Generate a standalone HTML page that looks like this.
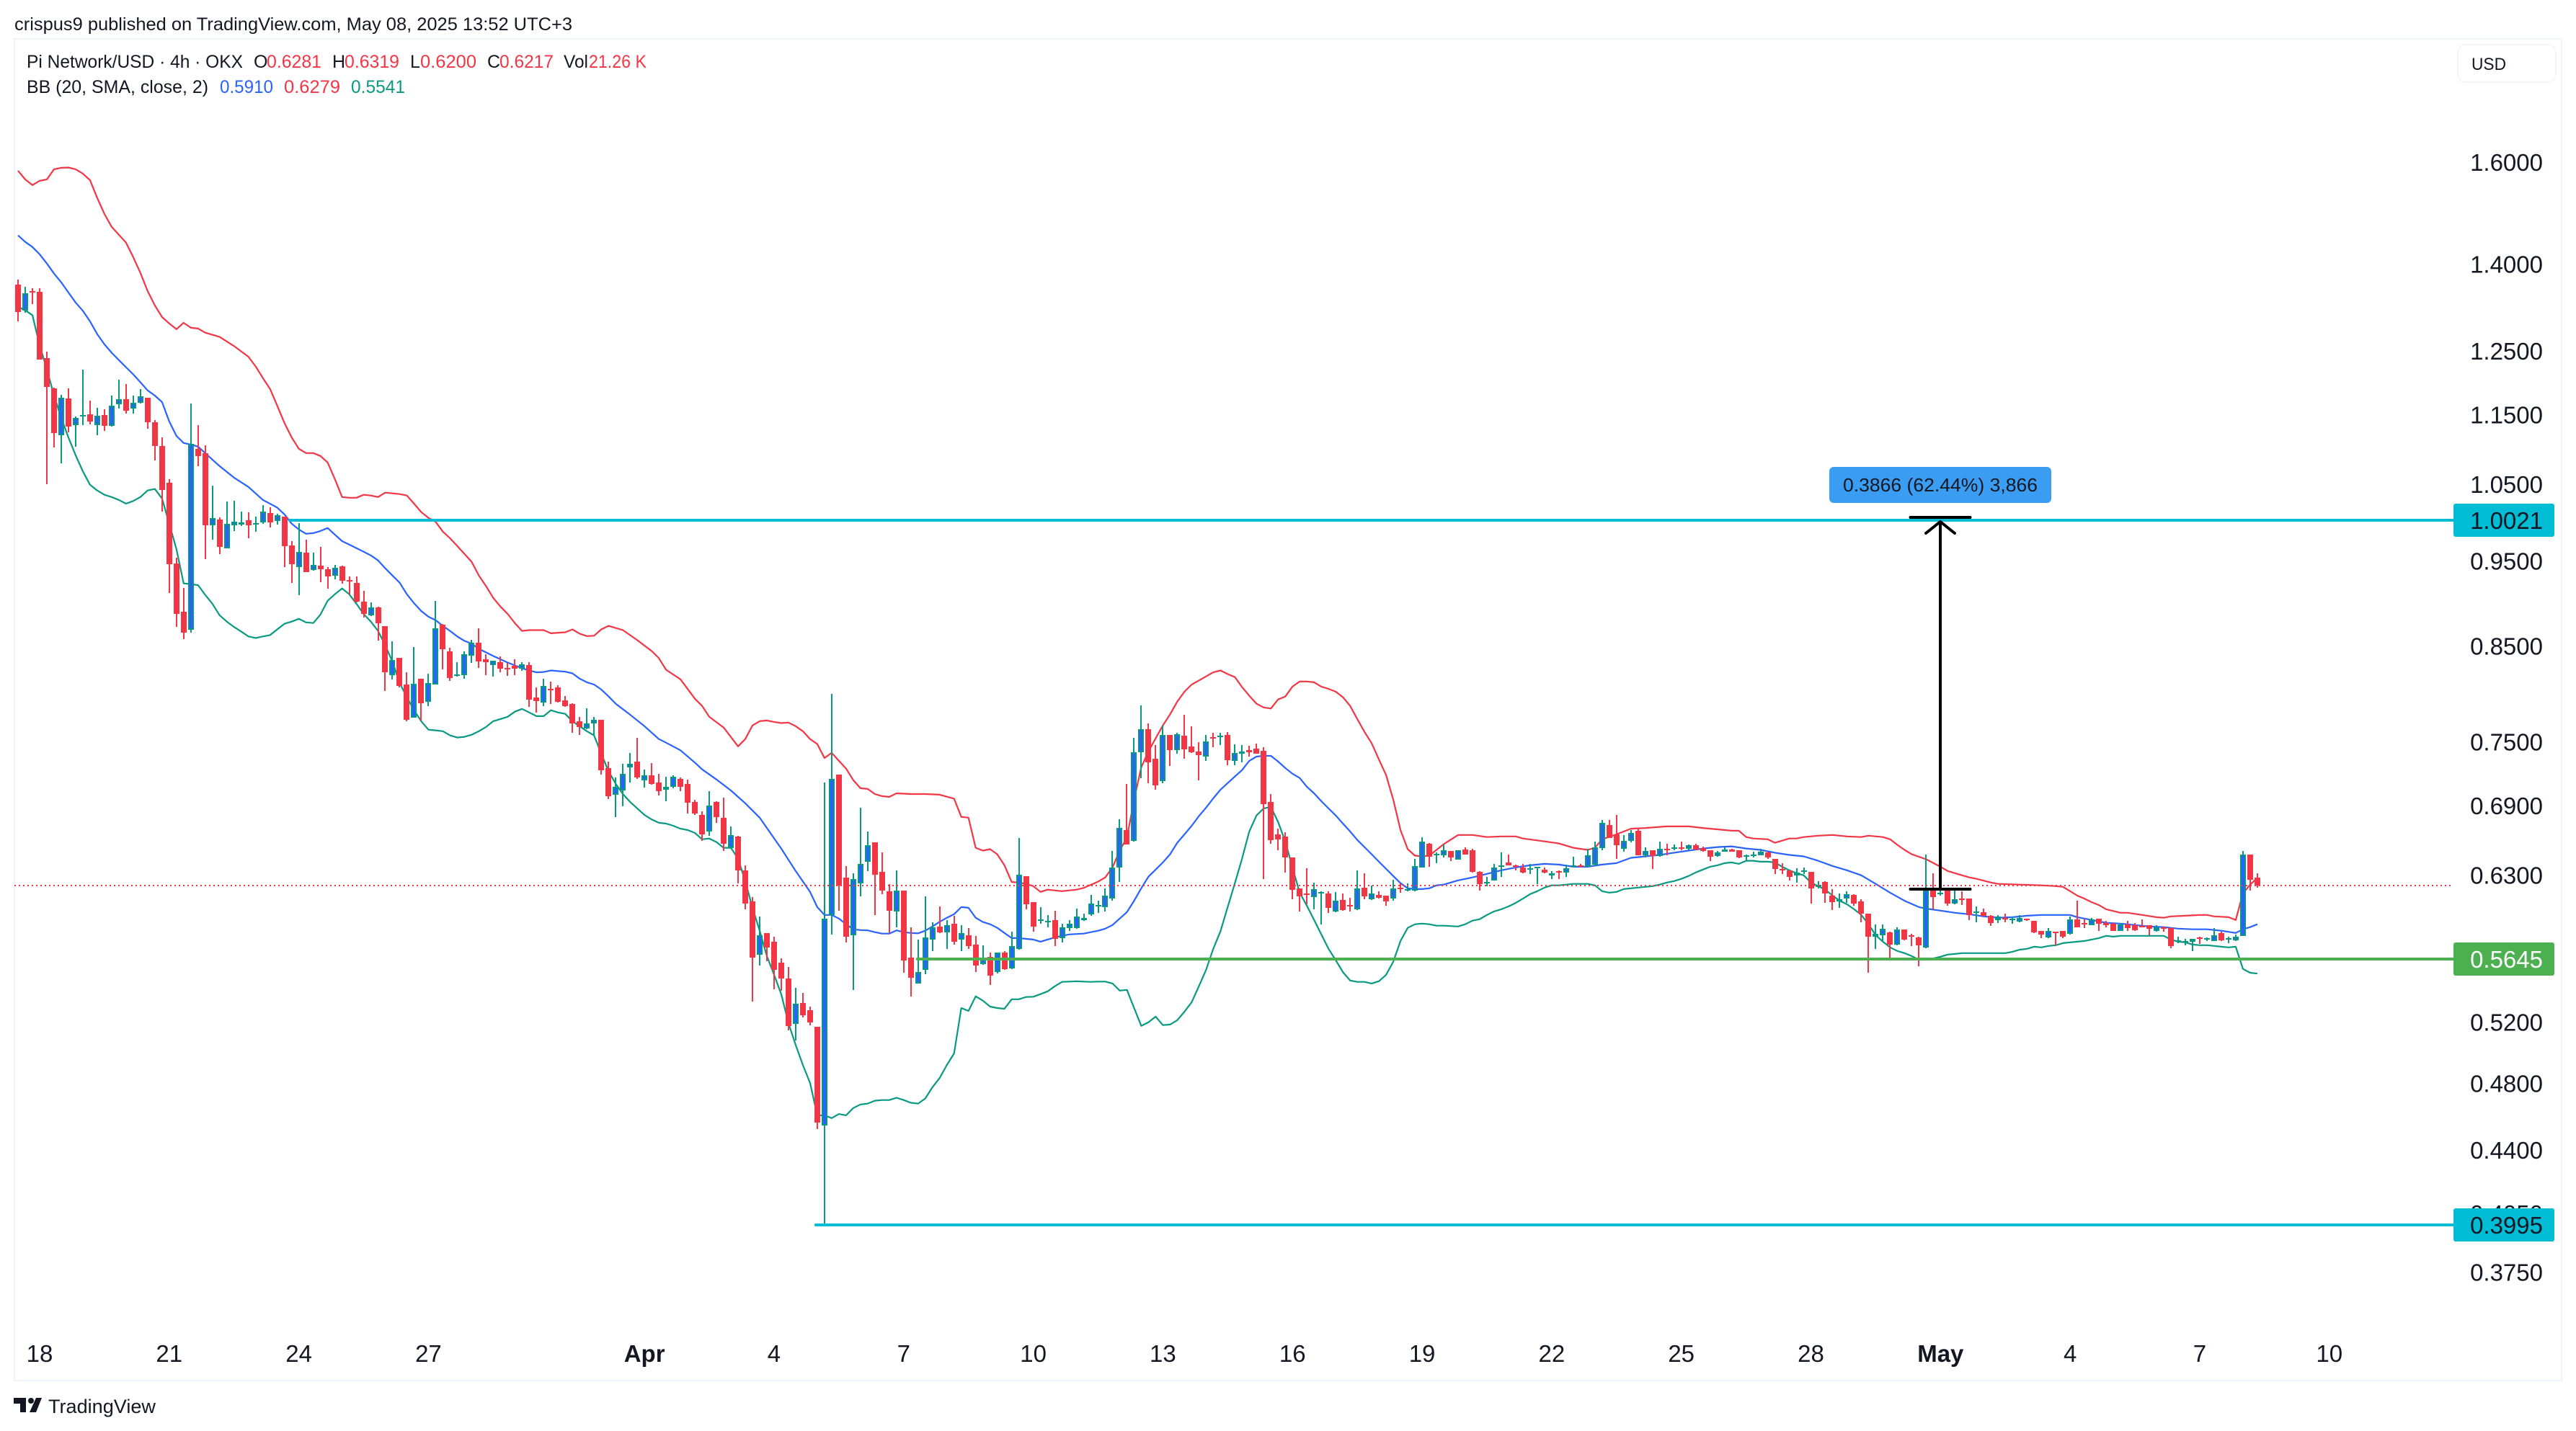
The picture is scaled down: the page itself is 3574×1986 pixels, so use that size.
<!DOCTYPE html>
<html lang="en">
<head>
<meta charset="utf-8">
<title>Pi Network/USD chart</title>
<style>
html,body{margin:0;padding:0;background:#fff;}
svg{display:block;font-family:"Liberation Sans",sans-serif;}
</style>
</head>
<body>
<svg id="chart" xmlns="http://www.w3.org/2000/svg" width="3574" height="1986" viewBox="0 0 3574 1986">
  <rect x="0" y="0" width="3574" height="1986" fill="#ffffff"/>
  <text x="20" y="42" font-size="25" fill="#131722" textLength="774" lengthAdjust="spacingAndGlyphs">crispus9 published on TradingView.com, May 08, 2025 13:52 UTC+3</text>
  <rect x="20" y="54" width="3534" height="1862" fill="none" stroke="#f0f3fa" stroke-width="2"/>
  <g id="bb-layer"></g>
  <g id="candle-layer"></g>
  <g id="drawing-layer"></g>
  <g id="y-axis"></g>
  <g id="x-axis"></g>
  <g id="level-label-layer"></g>

  <g font-size="25" fill="#131722">
    <text x="37" y="94" textLength="300" lengthAdjust="spacingAndGlyphs">Pi Network/USD · 4h · OKX</text>
    <text x="352" y="94">O</text>
    <text x="370" y="94" fill="#f23645" textLength="76" lengthAdjust="spacingAndGlyphs">0.6281</text>
    <text x="461" y="94">H</text>
    <text x="478" y="94" fill="#f23645" textLength="76" lengthAdjust="spacingAndGlyphs">0.6319</text>
    <text x="569" y="94">L</text>
    <text x="583" y="94" fill="#f23645" textLength="78" lengthAdjust="spacingAndGlyphs">0.6200</text>
    <text x="676" y="94">C</text>
    <text x="693" y="94" fill="#f23645" textLength="75" lengthAdjust="spacingAndGlyphs">0.6217</text>
    <text x="782" y="94" textLength="34" lengthAdjust="spacingAndGlyphs">Vol</text>
    <text x="817" y="94" fill="#f23645" textLength="80" lengthAdjust="spacingAndGlyphs">21.26 K</text>
  </g>
  <g font-size="25" fill="#131722">
    <text x="37" y="129" textLength="252" lengthAdjust="spacingAndGlyphs">BB (20, SMA, close, 2)</text>
    <text x="305" y="129" fill="#2962ff" textLength="74" lengthAdjust="spacingAndGlyphs">0.5910</text>
    <text x="394" y="129" fill="#f23645" textLength="78" lengthAdjust="spacingAndGlyphs">0.6279</text>
    <text x="487" y="129" fill="#089981" textLength="75" lengthAdjust="spacingAndGlyphs">0.5541</text>
  </g>

  <g>
    <rect x="3410" y="62" width="136" height="52" rx="11" fill="#ffffff" stroke="#f0f3fa" stroke-width="1.5"/>
    <text x="3429" y="97" font-size="24" fill="#131722" textLength="48" lengthAdjust="spacingAndGlyphs">USD</text>
  </g>

  <g>
    <path d="M19 1940h17v20h-8v-12h-9z" fill="#131722"/>
    <circle cx="43" cy="1944" r="4" fill="#131722"/>
    <path d="M50 1940h8l-8 20h-9z" fill="#131722"/>
    <text x="67" y="1961" font-size="27" fill="#131722" textLength="149" lengthAdjust="spacingAndGlyphs">TradingView</text>
  </g>
</svg>

<script>
// ---- Candle data (4h bars, USD) ----
const opens = [
1.3634,1.3175,1.3520,1.3507,1.2389,1.1907,1.1197,1.1749,1.1347,1.1477,
1.1510,1.1347,1.1499,1.1336,1.1662,1.1738,1.1597,1.1684,1.1760,1.1391,
1.1042,1.0525,.9474,.8891,.8680,1.1001,1.0939,.9957,1.0033,.9661,
.9957,.9967,1.0023,.9967,.9995,1.0117,1.0014,1.0070,.9697,.9428,
.9607,.9392,.9445,.9401,.9321,.9437,.9269,.9235,.9011,.8850,
.8942,.8728,.8187,.8368,.8084,.7743,.8147,.7906,.8084,.8744,
.8439,.8179,.8187,.8391,.8535,.8352,.8296,.8320,.8265,.8281,
.8250,.8296,.7951,.7898,.8039,.8054,.7921,.7884,.7706,.7635,
.7685,.7720,.7249,.6999,.7039,.7256,.7310,.7135,.7182,.7114,
.7046,.7073,.7148,.7101,.6935,.6818,.6672,.6935,.6793,.6531,
.6629,.6342,.6088,.5680,.5843,.5777,.5623,.5506,.5189,.5333,
.5282,.5170,.4545,.5982,.7188,.6283,.5826,.6236,.6413,.6580,
.6330,.6171,.6010,.6177,.5658,.5470,.5569,.5793,.5893,.5849,
.5915,.5793,.5826,.5755,.5612,.5664,.5552,.5696,.5580,.5723,
.6294,.6083,.5938,.5927,.5943,.5804,.5882,.5882,.5943,.5988,
.6049,.6044,.6111,.6365,.6684,.6592,.7401,.7628,.7338,.7128,
.7571,.7422,.7564,.7457,.7408,.7358,.7550,.7550,.7571,.7317,
.7387,.7422,.7436,.7415,.6935,.6647,.6629,.6450,.6194,.6153,
.6123,.6153,.6153,.6010,.6100,.6060,.6027,.6200,.6106,.6141,
.6135,.6111,.6200,.6183,.6177,.6365,.6568,.6476,.6470,.6501,
.6433,.6519,.6513,.6330,.6236,.6259,.6371,.6407,.6383,.6365,
.6348,.6365,.6348,.6300,.6336,.6324,.6371,.6383,.6371,.6389,
.6531,.6729,.6647,.6525,.6592,.6678,.6470,.6507,.6464,.6525,
.6525,.6537,.6525,.6556,.6531,.6507,.6464,.6495,.6519,.6507,
.6464,.6470,.6470,.6489,.6434,.6353,.6342,.6300,.6330,.6330,
.6206,.6248,.6135,.6088,.6111,.6141,.6088,.5994,.5815,.5826,
.5849,.5755,.5871,.5826,.5809,.5734,.6194,.6147,.6194,.6072,
.6111,.6111,.5999,.6004,.5976,.5943,.5960,.5943,.5932,.5954,
.5938,.5860,.5809,.5855,.5860,.5838,.5949,.5921,.5904,.5954,
.5921,.5915,.5860,.5910,.5904,.5899,.5904,.5860,.5888,.5882,
.5777,.5777,.5777,.5809,.5793,.5782,.5843,.5798,.5788,.5821,
.6476,.6281];
const highs = [
1.3726,1.3595,1.3569,1.3569,1.2485,1.1919,1.1805,1.1907,1.1477,1.2205,
1.1716,1.1608,1.1586,1.1793,1.2045,1.1975,1.1793,1.1896,1.1760,1.1423,
1.1166,1.0574,.9545,.9174,1.1673,1.1347,1.1052,1.0487,1.0061,1.0270,
1.0280,1.0136,1.0127,1.0070,1.0221,1.0192,1.0108,1.0070,.9750,.9986,
.9768,.9607,.9679,.9428,.9454,.9445,.9312,.9312,.9140,.9002,
.8950,.8728,.8551,.8368,.8218,.8486,.8147,.8203,.9020,.8752,
.8478,.8320,.8446,.8567,.8704,.8407,.8336,.8383,.8312,.8352,
.8320,.8320,.8054,.8147,.8116,.8076,.7966,.7891,.7750,.7839,
.7750,.7720,.7310,.7162,.7290,.7394,.7543,.7236,.7297,.7195,
.7168,.7182,.7162,.7141,.6954,.6850,.7033,.6941,.6974,.6716,
.6635,.6383,.6124,.5972,.5843,.5815,.5650,.5591,.5439,.5404,
.5307,.5170,.7114,.7988,.7188,.6377,.6318,.6883,.6672,.6580,
.6489,.6230,.6342,.6177,.5888,.5793,.6129,.5927,.6049,.5943,
.5976,.5904,.5882,.5821,.5750,.5696,.5696,.5707,.5855,.6617,
.6294,.6083,.6044,.5982,.6016,.5915,.5943,.6032,.5994,.6141,
.6094,.6194,.6501,.6781,.7101,.7543,.7868,.7685,.7472,.7663,
.7571,.7592,.7772,.7656,.7500,.7571,.7592,.7592,.7600,.7479,
.7472,.7465,.7486,.7450,.7006,.6696,.6665,.6450,.6194,.6359,
.6241,.6171,.6171,.6165,.6153,.6118,.6342,.6318,.6218,.6171,
.6135,.6265,.6236,.6236,.6438,.6623,.6574,.6489,.6562,.6501,
.6513,.6537,.6525,.6336,.6289,.6395,.6489,.6476,.6389,.6395,
.6395,.6371,.6365,.6336,.6342,.6389,.6458,.6395,.6525,.6586,
.6770,.6770,.6818,.6641,.6684,.6696,.6537,.6507,.6586,.6568,
.6562,.6586,.6562,.6568,.6543,.6507,.6501,.6537,.6525,.6507,
.6476,.6495,.6525,.6495,.6434,.6401,.6342,.6359,.6365,.6330,
.6253,.6253,.6188,.6153,.6171,.6147,.6106,.5994,.5910,.5910,
.5855,.5888,.5871,.5838,.5815,.6476,.6318,.6371,.6194,.6194,
.6171,.6111,.6049,.6032,.5982,.5982,.5994,.5971,.5982,.5954,
.5938,.5860,.5882,.5855,.5860,.5971,.6094,.5954,.5960,.5954,
.5938,.5927,.5921,.5938,.5921,.5949,.5904,.5904,.5893,.5888,
.5815,.5798,.5798,.5815,.5809,.5882,.5855,.5815,.5832,.6501,
.6476,.6319];
const lows = [
1.2995,1.3139,1.3285,1.2365,1.0505,1.1022,1.0795,1.1238,1.1032,1.1347,
1.1358,1.1197,1.1260,1.1325,1.1597,1.1521,1.1521,1.1673,1.1293,1.0836,
1.0136,.9114,.8720,.8575,.8648,1.0754,.9525,.9768,.9590,.9661,
.9881,.9948,.9787,.9872,.9976,.9929,.9967,.9428,.9235,.9089,
.9365,.9383,.9243,.9166,.9278,.9226,.9097,.9002,.8825,.8841,
.8559,.8017,.8139,.8054,.7706,.7743,.7713,.7861,.8084,.8242,
.8124,.8171,.8147,.8312,.8265,.8187,.8171,.8218,.8179,.8187,
.8234,.7854,.7794,.7861,.7884,.7898,.7854,.7592,.7571,.7628,
.7564,.7188,.6961,.6800,.6895,.7114,.7148,.7066,.7094,.6993,
.6941,.7060,.7033,.6831,.6818,.6592,.6635,.6748,.6501,.6525,
.6236,.6027,.5343,.5601,.5631,.5429,.5419,.5146,.5077,.5233,
.5180,.4523,.3995,.5832,.6016,.5772,.5422,.6129,.6336,.5982,
.6147,.5843,.5888,.5547,.5375,.5470,.5537,.5707,.5843,.5723,
.5755,.5707,.5723,.5552,.5607,.5460,.5542,.5569,.5574,.5717,
.6027,.5854,.5915,.5888,.5745,.5772,.5860,.5876,.5938,.5976,
.5999,.6010,.6094,.6248,.6562,.6586,.7155,.7107,.7046,.7107,
.7270,.7387,.7338,.7394,.7135,.7317,.7450,.7472,.7276,.7276,
.7304,.7358,.7387,.6271,.6568,.6513,.6324,.6106,.6010,.6066,
.6027,.5910,.5999,.6004,.6016,.6010,.6021,.6106,.6100,.6111,
.6055,.6094,.6159,.6171,.6171,.6365,.6371,.6401,.6452,.6421,
.6433,.6476,.6324,.6177,.6212,.6259,.6289,.6383,.6342,.6318,
.6312,.6230,.6318,.6271,.6271,.6289,.6365,.6365,.6371,.6377,
.6513,.6617,.6434,.6495,.6580,.6470,.6452,.6353,.6458,.6470,
.6513,.6507,.6507,.6513,.6495,.6421,.6458,.6495,.6495,.6440,
.6421,.6452,.6470,.6434,.6312,.6312,.6259,.6241,.6312,.6072,
.6194,.6077,.6021,.6038,.6077,.6055,.5927,.5547,.5723,.5777,
.5652,.5750,.5788,.5745,.5596,.5728,.6027,.6135,.6055,.6066,
.6060,.5943,.5927,.5971,.5899,.5921,.5927,.5915,.5927,.5938,
.5843,.5804,.5804,.5750,.5804,.5832,.5888,.5882,.5904,.5860,
.5888,.5860,.5860,.5860,.5860,.5888,.5826,.5855,.5855,.5728,
.5766,.5750,.5707,.5761,.5782,.5782,.5782,.5766,.5782,.5821,
.6177,.6200];
const closes = [
1.3151,1.3482,1.3507,1.2365,1.1931,1.1228,1.1760,1.1325,1.1456,1.1499,
1.1401,1.1488,1.1336,1.1640,1.1738,1.1564,1.1684,1.1782,1.1391,1.1042,
1.0426,.9465,.8866,.8648,1.1073,1.0898,.9957,1.0051,.9679,.9976,
1.0004,.9995,.9957,.9986,1.0136,.9995,1.0089,.9688,.9465,.9616,
.9365,.9454,.9401,.9312,.9419,.9260,.9252,.9011,.8866,.8942,
.8760,.8218,.8344,.8069,.7720,.8092,.7891,.8100,.8704,.8462,
.8155,.8195,.8407,.8535,.8328,.8320,.8336,.8250,.8250,.8250,
.8304,.7928,.7913,.8069,.8024,.7906,.7861,.7685,.7649,.7685,
.7720,.7229,.6987,.7073,.7195,.7290,.7162,.7182,.7101,.7033,
.7073,.7168,.7073,.6928,.6831,.6647,.6902,.6800,.6568,.6641,
.6342,.6072,.5658,.5826,.5734,.5569,.5506,.5175,.5328,.5248,
.5199,.4561,.5954,.7148,.6218,.5815,.6271,.6395,.6556,.6306,
.6177,.6016,.6177,.5636,.5511,.5552,.5809,.5888,.5849,.5904,
.5777,.5843,.5745,.5601,.5650,.5527,.5696,.5574,.5745,.6306,
.6066,.5893,.5949,.5938,.5798,.5888,.5915,.5972,.5960,.6072,
.6060,.6135,.6365,.6702,.6562,.7401,.7628,.7304,.7087,.7571,
.7422,.7578,.7429,.7401,.7372,.7507,.7536,.7564,.7324,.7394,
.7408,.7401,.7387,.6915,.6598,.6604,.6450,.6183,.6129,.6141,
.6188,.6165,.6038,.6094,.6021,.6049,.6194,.6129,.6153,.6118,
.6088,.6194,.6194,.6188,.6377,.6586,.6458,.6482,.6507,.6452,
.6513,.6476,.6330,.6230,.6248,.6365,.6383,.6383,.6371,.6324,
.6359,.6371,.6324,.6318,.6330,.6359,.6383,.6371,.6470,.6537,
.6748,.6617,.6550,.6592,.6659,.6470,.6501,.6464,.6525,.6513,
.6537,.6525,.6556,.6519,.6501,.6458,.6489,.6519,.6495,.6452,
.6470,.6476,.6495,.6446,.6353,.6348,.6289,.6324,.6342,.6194,
.6224,.6153,.6083,.6106,.6147,.6072,.5994,.5815,.5838,.5876,
.5755,.5871,.5793,.5815,.5750,.6183,.6123,.6159,.6072,.6106,
.6100,.5982,.6010,.5976,.5921,.5971,.5949,.5954,.5960,.5949,
.5849,.5832,.5860,.5843,.5815,.5949,.5888,.5910,.5949,.5915,
.5904,.5860,.5910,.5882,.5865,.5893,.5876,.5888,.5882,.5745,
.5788,.5782,.5798,.5804,.5804,.5826,.5788,.5804,.5815,.6476,
.6265,.6217];

// ---- Bollinger Bands: bar numbers read and the value at each ----
const bbUpperBars = [0,1,2,3,4,5,6,7,8,9,10,11,12,13,14,15,16,17,18,19,20,21,22,23,24,25,26,28,30,32,33,34,35,36,37,38,39,40,41,42,43,44,45,46,47,48,49,50,51,53,54,55,56,57,58,59,60,61,63,64,65,66,67,68,69,70,71,73,74,76,77,78,79,80,81,82,84,86,88,89,90,92,94,95,96,98,100,101,102,103,104,105,106,107,108,109,110,111,112,113,114,115,116,117,118,119,120,121,122,124,126,128,130,131,132,133,134,135,136,137,138,139,140,141,142,143,145,147,148,150,151,152,153,154,155,156,157,158,159,160,161,162,163,164,165,166,167,168,169,170,171,172,173,174,175,176,177,178,179,180,181,182,183,184,185,186,187,188,189,190,191,192,193,194,195,196,197,198,200,202,204,206,208,209,212,214,216,218,219,220,222,224,226,229,232,234,236,238,239,240,241,243,244,245,246,247,248,250,252,254,256,257,259,260,261,262,263,265,267,268,270,271,272,274,275,278,281,283,284,285,286,287,288,289,290,292,293,295,297,298,299,301,303,304,305,307,308,309,310,311];
const bbUpper = [1.5821,1.5642,1.5527,1.5614,1.5642,1.5851,1.5881,1.5887,1.5851,1.5762,1.5628,1.5268,1.4952,1.4703,1.4552,1.4402,1.4132,1.3844,1.3519,1.3268,1.3068,1.2958,1.2861,1.2970,1.2885,1.2873,1.2803,1.2732,1.2581,1.2407,1.2250,1.2067,1.1896,1.1640,1.1380,1.1166,1.1001,1.0939,1.0939,1.0898,1.0805,1.0574,1.0329,1.0319,1.0319,1.0359,1.0349,1.0329,1.0388,1.0369,1.0349,1.0240,1.0127,1.0051,1.0000,.9872,.9787,.9688,.9490,.9321,.9192,.9054,.8951,.8866,.8760,.8671,.8680,.8680,.8644,.8655,.8688,.8640,.8612,.8616,.8688,.8728,.8680,.8567,.8446,.8368,.8242,.8139,.7936,.7861,.7750,.7642,.7457,.7528,.7663,.7706,.7713,.7699,.7687,.7692,.7656,.7606,.7528,.7479,.7344,.7394,.7317,.7243,.7135,.7060,.7053,.7006,.6987,.6980,.7013,.7006,.7006,.7000,.6964,.6800,.6793,.6531,.6507,.6519,.6476,.6383,.6245,.6241,.6230,.6212,.6165,.6183,.6171,.6183,.6197,.6248,.6283,.6365,.6507,.6617,.6954,.7256,.7408,.7536,.7663,.7776,.7906,.8009,.8084,.8127,.8171,.8214,.8234,.8195,.8163,.8057,.7966,.7884,.7846,.7835,.7928,.7958,.8062,.8116,.8116,.8108,.8062,.8039,.8009,.7951,.7861,.7728,.7599,.7486,.7331,.7182,.6954,.6684,.6519,.6464,.6458,.6464,.6513,.6562,.6641,.6641,.6623,.6629,.6629,.6611,.6586,.6568,.6531,.6513,.6531,.6604,.6647,.6696,.6702,.6716,.6716,.6702,.6690,.6678,.6678,.6623,.6611,.6604,.6574,.6592,.6611,.6611,.6623,.6635,.6641,.6629,.6623,.6635,.6623,.6604,.6556,.6513,.6476,.6434,.6371,.6336,.6300,.6283,.6271,.6241,.6230,.6224,.6218,.6212,.6206,.6171,.6135,.6111,.6083,.6060,.6027,.5999,.5999,.5982,.5965,.5960,.5971,.5976,.5982,.5982,.5971,.5965,.5943,.6153,.6224,.6279];

const bbBasisBars = [0,1,2,3,4,5,6,7,8,9,10,11,12,13,14,15,16,17,18,19,20,21,22,23,24,25,26,27,28,30,32,34,36,37,38,39,40,41,42,43,44,45,46,48,49,50,51,52,53,54,55,56,57,58,59,60,61,62,63,64,66,68,70,71,72,73,74,76,77,78,79,80,81,82,83,85,87,89,90,92,94,95,97,99,101,103,104,106,108,110,111,112,113,114,115,116,117,118,119,120,121,122,123,124,125,126,127,128,129,130,131,132,133,134,135,136,137,138,139,140,141,142,143,144,145,146,148,150,151,152,153,154,155,156,157,158,159,160,161,162,163,164,165,166,167,168,169,170,171,172,173,174,175,176,177,178,179,180,181,182,183,184,185,186,187,188,189,190,191,192,193,194,195,196,197,198,200,202,204,206,208,210,212,214,216,218,220,222,224,226,228,230,232,234,236,238,240,242,244,246,248,250,252,254,256,258,260,262,264,265,267,269,271,273,275,277,279,281,285,286,288,290,292,294,296,298,300,302,304,306,308,309,310,311];
const bbBasis = [1.4539,1.4416,1.4320,1.4185,1.4014,1.3831,1.3674,1.3494,1.3318,1.3175,1.2994,1.2779,1.2610,1.2473,1.2353,1.2239,1.2125,1.2000,1.1873,1.1793,1.1695,1.1401,1.1187,1.1084,1.1063,1.1032,1.0939,1.0846,1.0754,1.0594,1.0466,1.0290,1.0188,1.0098,.9976,.9900,.9844,.9853,.9881,.9919,.9834,.9750,.9706,.9616,.9570,.9508,.9410,.9321,.9235,.9097,.8990,.8899,.8833,.8793,.8728,.8671,.8608,.8559,.8527,.8470,.8391,.8320,.8258,.8234,.8214,.8218,.8234,.8221,.8203,.8147,.8108,.8084,.8032,.7961,.7884,.7772,.7656,.7528,.7493,.7418,.7300,.7236,.7141,.7039,.6922,.6793,.6702,.6525,.6336,.6165,.6044,.5982,.5982,.5954,.5910,.5871,.5865,.5863,.5849,.5838,.5838,.5863,.5849,.5843,.5840,.5860,.5893,.5929,.5960,.5988,.6044,.6038,.5960,.5927,.5910,.5882,.5843,.5804,.5804,.5798,.5793,.5777,.5793,.5809,.5821,.5832,.5838,.5860,.5876,.5904,.5954,.6004,.6094,.6194,.6289,.6348,.6407,.6476,.6574,.6647,.6722,.6807,.6883,.6967,.7046,.7107,.7168,.7229,.7317,.7358,.7365,.7365,.7310,.7249,.7195,.7155,.7073,.7013,.6941,.6876,.6813,.6741,.6672,.6598,.6537,.6476,.6413,.6353,.6294,.6236,.6194,.6188,.6188,.6194,.6218,.6224,.6259,.6283,.6312,.6342,.6365,.6383,.6395,.6389,.6371,.6371,.6389,.6401,.6446,.6458,.6470,.6489,.6507,.6525,.6537,.6543,.6525,.6513,.6489,.6470,.6458,.6421,.6377,.6342,.6300,.6230,.6159,.6094,.6044,.6032,.6016,.5999,.5988,.5971,.5960,.5965,.5976,.5982,.5982,.5965,.5943,.5921,.5915,.5904,.5893,.5888,.5876,.5871,.5871,.5860,.5843,.5871,.5888,.5910];

const bbLowerBars = [0,1,2,3,4,5,6,7,8,9,10,11,12,13,14,15,16,17,18,19,20,21,22,23,24,25,26,27,28,29,30,31,32,33,34,35,36,37,38,39,40,41,42,43,44,45,46,47,48,49,50,51,52,53,54,55,56,57,58,59,60,61,62,63,64,65,66,67,68,69,70,71,72,73,74,75,76,77,78,79,80,81,82,83,84,85,86,87,88,89,90,91,92,93,94,95,96,97,98,99,100,101,102,103,104,105,106,107,108,109,110,111,112,113,114,115,116,117,118,119,120,121,122,123,124,125,126,127,128,129,130,131,132,133,134,135,136,137,138,139,140,141,142,143,144,145,146,147,148,149,150,151,152,153,154,155,156,157,158,159,160,161,162,163,164,165,166,167,168,169,170,171,172,173,174,175,176,177,178,179,180,181,182,183,184,185,186,187,188,189,190,191,192,193,194,195,196,197,198,200,201,202,203,204,205,206,207,208,209,210,211,212,213,214,215,216,217,218,219,220,221,222,223,224,225,226,227,228,229,230,231,232,233,234,235,236,237,238,239,240,241,242,243,244,245,246,247,248,249,250,251,252,253,254,255,256,257,258,259,260,261,262,263,264,265,266,267,268,269,270,275,276,277,278,279,280,281,282,283,284,285,286,287,288,289,290,291,292,298,299,300,301,302,303,304,305,306,307,308,309,310,311];
const bbLower = [1.3244,1.3182,1.3100,1.2593,1.2205,1.1793,1.1456,1.1166,1.0908,1.0683,1.0495,1.0418,1.0359,1.0329,1.0290,1.0240,1.0275,1.0329,1.0418,1.0438,1.0309,.9976,.9648,.9226,.9218,.9205,.9089,.8984,.8850,.8777,.8716,.8663,.8608,.8591,.8608,.8624,.8688,.8752,.8777,.8809,.8769,.8760,.8858,.9020,.9097,.9166,.9097,.8984,.8866,.8777,.8671,.8510,.8328,.8100,.7951,.7817,.7706,.7621,.7614,.7606,.7564,.7543,.7550,.7571,.7606,.7649,.7706,.7728,.7750,.7802,.7831,.7794,.7757,.7757,.7817,.7794,.7780,.7706,.7656,.7606,.7564,.7387,.7219,.7101,.7006,.6935,.6876,.6818,.6777,.6748,.6741,.6722,.6696,.6684,.6659,.6604,.6611,.6580,.6531,.6531,.6440,.6253,.6038,.5860,.5669,.5532,.5394,.5194,.5048,.4917,.4803,.4604,.4604,.4587,.4612,.4604,.4648,.4670,.4675,.4693,.4697,.4697,.4711,.4697,.4680,.4675,.4706,.4776,.4834,.4917,.4992,.5297,.5277,.5379,.5348,.5307,.5297,.5292,.5358,.5358,.5374,.5376,.5394,.5414,.5450,.5481,.5483,.5486,.5483,.5481,.5483,.5483,.5470,.5419,.5424,.5297,.5175,.5199,.5238,.5180,.5184,.5214,.5272,.5338,.5450,.5569,.5723,.5855,.6044,.6236,.6440,.6672,.6813,.6876,.6889,.6754,.6586,.6365,.6159,.6055,.5943,.5832,.5723,.5639,.5552,.5491,.5481,.5481,.5470,.5486,.5532,.5628,.5782,.5882,.5910,.5915,.5910,.5899,.5899,.5893,.5910,.5938,.5949,.5982,.6010,.6027,.6049,.6077,.6111,.6147,.6171,.6200,.6218,.6218,.6224,.6230,.6230,.6230,.6218,.6171,.6159,.6165,.6188,.6194,.6200,.6206,.6212,.6224,.6241,.6253,.6271,.6294,.6324,.6348,.6371,.6383,.6401,.6407,.6395,.6421,.6421,.6413,.6413,.6407,.6371,.6342,.6318,.6300,.6241,.6212,.6183,.6135,.6094,.6066,.6027,.5982,.5910,.5826,.5777,.5734,.5707,.5691,.5669,.5642,.5642,.5652,.5664,.5680,.5685,.5691,.5691,.5691,.5701,.5717,.5723,.5739,.5734,.5745,.5750,.5766,.5772,.5777,.5782,.5793,.5804,.5821,.5815,.5821,.5821,.5793,.5777,.5772,.5755,.5750,.5750,.5745,.5739,.5734,.5739,.5575,.5547,.5541];

// ---- Axis tick data ----
const priceTicks = [1.6,1.4,1.25,1.15,1.05,0.95,0.85,0.75,0.69,0.63,0.52,0.48,0.44,0.405,0.375];
const timeTickBars = [3,21,39,57,87,105,123,141,159,177,195,213,231,249,267,285,303,321];
const timeTickLabels = ['18','21','24','27','Apr','4','7','10','13','16','19','22','25','28','May','4','7','10'];
const timeTickBold = ['Apr','May'];

// ---- Drawing data ----
const lastPrice = 0.6217;
const resistanceLevel = 1.0021;
const resistanceLabel = '1.0021';
const resistanceStartBar = 37.8;
const supportLevel = 0.5645;
const supportLabel = '0.5645';
const supportStartBar = 124.9;
const lowLevel = 0.3989;
const lowLabel = '0.3995';
const lowStartBar = 110.8;
const measureBar = 267;
const measureHalfSpanBars = 4.15;
const measureFromPrice = 0.6188;
const measureToPrice = 1.0060;
const measureLabel = '0.3866 (62.44%) 3,866';

// ---- Axis functions ----
function barX(bar) { return 25 + 9.99 * bar; }
function priceY(price) { return 225 + 1062 * Math.log(1.6 / price); }
const plotRight = 3403;

const NS = 'http://www.w3.org/2000/svg';
function make(tag, parent, attrs) {
  const el = document.createElementNS(NS, tag);
  for (const k in attrs) el.setAttribute(k, attrs[k]);
  parent.appendChild(el);
  return el;
}
const bbLayer = document.getElementById('bb-layer');
const candleLayer = document.getElementById('candle-layer');
const drawingLayer = document.getElementById('drawing-layer');
const yAxis = document.getElementById('y-axis');
const xAxis = document.getElementById('x-axis');
const levelLabels = document.getElementById('level-label-layer');

function bandPath(bars, values) {
  const n = Math.min(bars.length, values.length);
  let d = '';
  for (let i = 0; i < n; i++) {
    d += (i ? 'L' : 'M') + barX(bars[i]).toFixed(1) + ' ' + priceY(values[i]).toFixed(1);
  }
  return d;
}
const upperLine = make('path', bbLayer, {d: bandPath(bbUpperBars, bbUpper), fill: 'none', stroke: '#f23645', 'stroke-width': 2.2, 'stroke-linejoin': 'round'});


const basisLine = make('path', bbLayer, {d: bandPath(bbBasisBars, bbBasis), fill: 'none', stroke: '#2962ff', 'stroke-width': 2.2, 'stroke-linejoin': 'round'});


const lowerLine = make('path', bbLayer, {d: bandPath(bbLowerBars, bbLower), fill: 'none', stroke: '#089981', 'stroke-width': 2.2, 'stroke-linejoin': 'round'});



for (let i = 0; i < closes.length; i++) {
  const up = closes[i] >= opens[i];
  const x = Math.round(barX(i));
  const color = up ? '#089981' : '#f23645';
  const wick = make('line', candleLayer, {x1: x, x2: x, y1: Math.round(priceY(highs[i])), y2: Math.round(priceY(lows[i])), stroke: color, 'stroke-width': 2});
  
  
  const top = Math.round(priceY(Math.max(opens[i], closes[i])));
  const bottom = Math.round(priceY(Math.min(opens[i], closes[i])));
  const h = Math.max(bottom - top, 2);
  const body = make('rect', candleLayer, (up && h >= 4)
    ? {x: x - 3, y: top + 1, width: 6, height: h - 2, fill: '#2962ff', stroke: '#089981', 'stroke-width': 2}
    : {x: x - 4, y: top, width: 8, height: h, fill: color});
  
  
}

// last-price line
const lastY = Math.round(priceY(lastPrice));
const lastLine = make('line', drawingLayer, {x1: 20, x2: plotRight, y1: lastY, y2: lastY, stroke: '#f23645', 'stroke-width': 2, 'stroke-dasharray': '2 4'});



// horizontal levels
const resY = Math.round(priceY(resistanceLevel));
const supY = Math.round(priceY(supportLevel));
const lowY = Math.round(priceY(lowLevel));
const resistanceLine = make('line', drawingLayer, {x1: barX(resistanceStartBar), x2: plotRight, y1: resY, y2: resY, stroke: '#00bcd4', 'stroke-width': 4, 'stroke-linecap': 'round'});


const supportLine = make('line', drawingLayer, {x1: barX(supportStartBar), x2: plotRight, y1: supY, y2: supY, stroke: '#4caf50', 'stroke-width': 4, 'stroke-linecap': 'round'});


const lowLine = make('line', drawingLayer, {x1: barX(lowStartBar), x2: plotRight, y1: lowY, y2: lowY, stroke: '#00bcd4', 'stroke-width': 4, 'stroke-linecap': 'round'});



// measure arrow
const mx = Math.round(barX(measureBar));
const mTop = Math.round(priceY(measureToPrice));
const mBot = Math.round(priceY(measureFromPrice));
const mSpan = measureHalfSpanBars * 9.99;
const mShaft = make('line', drawingLayer, {x1: mx, x2: mx, y1: mTop + 5, y2: mBot, stroke: '#000000', 'stroke-width': 4});


const mTopCap = make('line', drawingLayer, {x1: mx - mSpan, x2: mx + mSpan, y1: mTop, y2: mTop, stroke: '#000000', 'stroke-width': 4, 'stroke-linecap': 'round'});


const mBotCap = make('line', drawingLayer, {x1: mx - mSpan, x2: mx + mSpan, y1: mBot, y2: mBot, stroke: '#000000', 'stroke-width': 4, 'stroke-linecap': 'round'});


const mHead = make('path', drawingLayer, {d: 'M' + (mx - 20) + ' ' + (mTop + 22) + 'L' + mx + ' ' + (mTop + 6) + 'L' + (mx + 20) + ' ' + (mTop + 22), fill: 'none', stroke: '#000000', 'stroke-width': 4, 'stroke-linecap': 'round'});


const mBox = make('rect', drawingLayer, {x: 2538, y: mTop - 70, width: 308, height: 50, rx: 6, fill: '#3a9df2'});


const mText = make('text', drawingLayer, {x: 2557, y: mTop - 36, 'font-size': 26, fill: '#131722', textLength: 270, lengthAdjust: 'spacingAndGlyphs'});
mText.textContent = measureLabel;



// price axis
for (let i = 0; i < priceTicks.length; i++) {
  const t = make('text', yAxis, {x: 3528, y: (priceY(priceTicks[i]) + 11.8).toFixed(1), 'text-anchor': 'end', 'font-size': 33, fill: '#131722'});
  t.textContent = priceTicks[i].toFixed(4);
  
  
}

// time axis
for (let i = 0; i < timeTickBars.length; i++) {
  const bold = timeTickBold.indexOf(timeTickLabels[i]) >= 0;
  const t = make('text', xAxis, {x: barX(timeTickBars[i]), y: 1890, 'text-anchor': 'middle', 'font-size': 33, 'font-weight': bold ? 700 : 400, fill: '#131722'});
  t.textContent = timeTickLabels[i];
  
  
}

// coloured price labels on the axis
const resBox = make('rect', levelLabels, {x: 3404, y: resY - 23, width: 140, height: 46, rx: 3, fill: '#00bcd4'});


const resText = make('text', levelLabels, {x: 3528, y: resY + 11.8, 'text-anchor': 'end', 'font-size': 33, fill: '#131722'});
resText.textContent = resistanceLabel;


const supBox = make('rect', levelLabels, {x: 3404, y: supY - 23, width: 140, height: 46, rx: 3, fill: '#4caf50'});


const supText = make('text', levelLabels, {x: 3528, y: supY + 11.8, 'text-anchor': 'end', 'font-size': 33, fill: '#ffffff'});
supText.textContent = supportLabel;


const lowBox = make('rect', levelLabels, {x: 3404, y: lowY - 23, width: 140, height: 46, rx: 3, fill: '#00bcd4'});


const lowText = make('text', levelLabels, {x: 3528, y: lowY + 11.8, 'text-anchor': 'end', 'font-size': 33, fill: '#131722'});
lowText.textContent = lowLabel;


</script>
</body>
</html>
